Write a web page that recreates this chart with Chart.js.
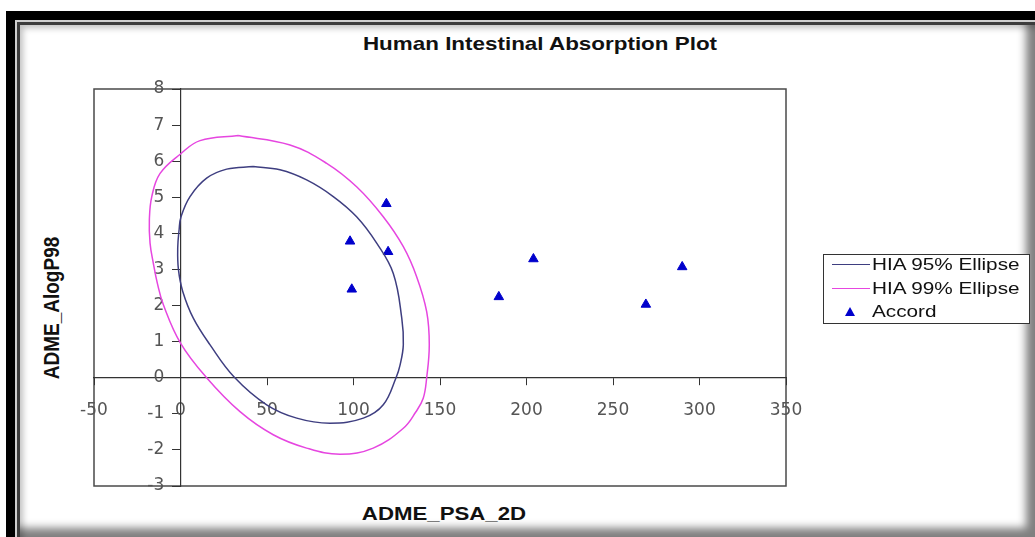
<!DOCTYPE html>
<html>
<head>
<meta charset="utf-8">
<script src="https://cdn.jsdelivr.net/npm/chart.js@4.4.1/dist/chart.umd.min.js"></script>
<style>
    html, body { margin: 0; padding: 0; background: #fff; }
    body { width: 1035px; height: 537px; position: relative; overflow: hidden; font-family: 'Liberation Sans', Arial, sans-serif; }
    .marco-negro { position: absolute; left: 6px; top: 11px; right: 0; bottom: 0; background: #000; }
    .marco-claro { position: absolute; left: 15px; top: 20px; right: 0; bottom: 0; background: #cfcfcf; }
    .marco-int { position: absolute; left: 17px; top: 22px; right: 0; bottom: 0; background: #fff;
        box-shadow: inset 3px 3px 0 #3c3c3c, inset 6px 6px 6px rgba(0,0,0,.25), inset -9px -9px 9px rgba(0,0,0,.5); }
    #contenedor { position: absolute; left: 0; top: 0; width: 1035px; height: 537px; }
    .texto { position: absolute; white-space: nowrap; font-weight: bold; font-size: 19px; line-height: 1; color: #111; }
    #titulo { left: 540px; top: 34px; transform: translateX(-50%) scaleX(1.18); }
    #tituloX { left: 444px; top: 504px; transform: translateX(-50%) scaleX(1.17); }
    #tituloY { left: 51px; top: 308px; transform: translate(-50%, -50%) rotate(-90deg) scaleY(1.18); }
    #leyenda { position: absolute; left: 823px; top: 254px; width: 205px; height: 68px; border: 1.5px solid #333; background: #fff; }
    .fila { position: absolute; left: 0; width: 205px; height: 23px; }
    .muestra { position: absolute; left: 8px; top: 11px; width: 38px; height: 0; }
    .triangulo { position: absolute; left: 21px; top: 7px; width: 0; height: 0;
        border-left: 5px solid transparent; border-right: 5px solid transparent; border-bottom: 9px solid #0000cc; }
    .etiqueta { position: absolute; left: 48px; top: 0; font-size: 17px; line-height: 23px; color: #111;
        transform: scaleX(1.22); transform-origin: left center; white-space: nowrap; }
</style>
</head>
<body>
<div class="marco-negro"></div>
<div class="marco-claro"></div>
<div class="marco-int"></div>
<div class="texto" id="titulo">Human Intestinal Absorption Plot</div>
<div class="texto" id="tituloX">ADME_PSA_2D</div>
<div class="texto" id="tituloY">ADME_AlogP98</div>
<div id="contenedor"><canvas id="chartHIA"></canvas></div>
<div id="leyenda"></div>

<script>
// Elipse HIA 95% (empezando arriba)
const hia95X = [42.1, 57.5, 72.9, 88.3, 101.8, 113.4, 123.0, 127.9, 128.8, 126.9, 124.6, 117.2, 105.7, 86.4, 67.2, 49.8, 31.0, 17.1, 7.4, 1.3, -1.2, -1.6, -0.8, 0.3, 5.5, 15.1, 26.7, 42.1];
const hia95Y = [5.85, 5.76, 5.48, 5.02, 4.46, 3.73, 2.89, 1.65, 0.91, 0.35, 0.0, -0.75, -1.12, -1.26, -1.12, -0.75, 0.02, 0.91, 1.65, 2.39, 3.0, 3.6, 4.1, 4.46, 5.02, 5.53, 5.78, 5.85];

// Elipse HIA 99%
const hia99X = [33.4, 63.3, 84.5, 101.8, 117.2, 128.8, 136.5, 142.3, 143.8, 142.3, 140.3, 136.0, 128.8, 111.4, 92.2, 72.9, 53.6, 34.4, 15.1, 0, -9.9, -13.4, -15.7, -17.6, -18.0, -16.6, -11.8, 0, 11.3, 33.4];
const hia99Y = [6.71, 6.45, 5.94, 5.29, 4.46, 3.63, 2.8, 1.83, 0.91, 0.0, -0.57, -0.95, -1.4, -1.95, -2.12, -1.95, -1.58, -0.94, 0.0, 0.96, 2.02, 2.62, 3.17, 3.73, 4.37, 5.02, 5.66, 6.2, 6.57, 6.71];

// Compuestos "Accord"
const accordX = [98, 119, 120, 99, 184, 204, 269, 290];
const accordY = [3.78, 4.82, 3.49, 2.45, 2.24, 3.29, 2.03, 3.07];

// Ejes
const rangoX = [-50, 350];
const pasoX = 50;
const rangoY = [-3, 8];
const pasoY = 1;

const etiquetas = ['HIA 95% Ellipse', 'HIA 99% Ellipse', 'Accord'];
const colores = ['#3e3e80', '#e646e0', '#0000cc'];

const aPuntos = (xs, ys) => xs.map((x, i) => ({ x: x, y: ys[i] }));

const bordeArea = {
    id: 'bordeArea',
    beforeDraw(chart) {
        const { ctx, chartArea: a } = chart;
        ctx.save();
        ctx.strokeStyle = '#4a4a4a';
        ctx.lineWidth = 1.5;
        ctx.strokeRect(a.left, a.top, a.right - a.left, a.bottom - a.top);
        ctx.restore();
    }
};

const fuenteTicks = { family: 'DejaVu Sans', size: 17 };

const chart = new Chart(document.getElementById('chartHIA'), {
    type: 'scatter',
    data: {
        datasets: [
            {
                label: etiquetas[0],
                data: aPuntos(hia95X, hia95Y),
                showLine: true,
                borderColor: colores[0],
                borderWidth: 1.5,
                pointRadius: 0,
                tension: 0.4,
                fill: false
            },
            {
                label: etiquetas[1],
                data: aPuntos(hia99X, hia99Y),
                showLine: true,
                borderColor: colores[1],
                borderWidth: 1.5,
                pointRadius: 0,
                tension: 0.4,
                fill: false
            },
            {
                label: etiquetas[2],
                data: aPuntos(accordX, accordY),
                pointStyle: 'triangle',
                pointRadius: 5.5,
                backgroundColor: colores[2],
                borderColor: colores[2],
                borderWidth: 1
            }
        ]
    },
    options: {
        responsive: true,
        maintainAspectRatio: false,
        animation: false,
        layout: { padding: { left: 94, top: 89, right: 249, bottom: 51 } },
        plugins: {
            legend: { display: false },
            title: { display: false },
            tooltip: { enabled: false }
        },
        scales: {
            x: {
                type: 'linear',
                min: rangoX[0],
                max: rangoX[1],
                position: { y: 0 },
                ticks: { stepSize: pasoX, color: '#555', font: fuenteTicks, padding: 16, maxRotation: 0 },
                grid: { drawOnChartArea: false, drawTicks: true, tickLength: 7, color: '#333' },
                border: { display: true, color: '#333', width: 1.2 }
            },
            y: {
                type: 'linear',
                min: rangoY[0],
                max: rangoY[1],
                position: { x: 0 },
                // el eje centrado no separa las etiquetas de la linea: se usan espacios
                ticks: { stepSize: pasoY, color: '#555', font: fuenteTicks, callback: v => v + '   ' },
                grid: { drawOnChartArea: false, drawTicks: true, tickLength: 8, color: '#333' },
                border: { display: true, color: '#333', width: 1.2 }
            }
        }
    },
    plugins: [bordeArea]
});

// Leyenda HTML a partir de los datasets
const leyenda = document.getElementById('leyenda');
chart.data.datasets.forEach((ds, i) => {
    const fila = document.createElement('div');
    fila.className = 'fila';
    fila.style.top = (23.5 * i - 2) + 'px';
    const marca = document.createElement('div');
    if (ds.showLine) {
        marca.className = 'muestra';
        marca.style.borderTop = '1.5px solid ' + ds.borderColor;
    } else {
        marca.className = 'triangulo';
        marca.style.borderBottomColor = ds.backgroundColor;
    }
    const texto = document.createElement('span');
    texto.className = 'etiqueta';
    texto.textContent = ds.label;
    fila.appendChild(marca);
    fila.appendChild(texto);
    leyenda.appendChild(fila);
});
</script>
</body>
</html>
